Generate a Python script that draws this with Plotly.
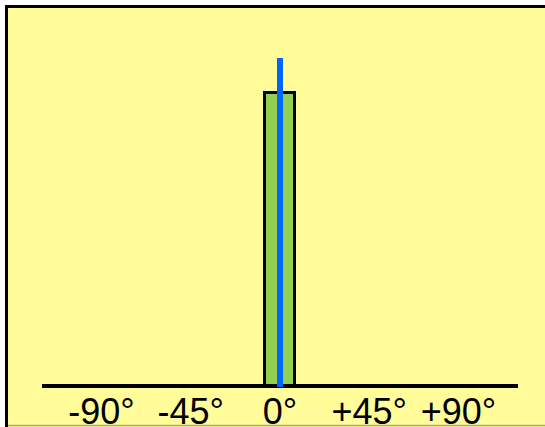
import plotly.graph_objects as go

# Data
categories = [0]            # bar position (degrees)
bar_values = [1.0]          # bar height
bar_width_deg = 15
line_x = [0, 0]             # blue indicator line
line_y = [-0.005, 1.118]
tick_vals = [-90, -45, 0, 45, 90]
tick_text = ["-90°", "-45°", "0°", "+45°", "+90°"]

YELLOW = "#FFFC99"
GREEN = "#92D050"
BLUE = "#0066FF"

fig = go.Figure()
fig.add_trace(go.Bar(
    x=categories, y=bar_values, width=bar_width_deg,
    marker=dict(color=GREEN, line=dict(color="black", width=3)),
    showlegend=False, hoverinfo="skip",
))
fig.add_trace(go.Scatter(
    x=line_x, y=line_y, mode="lines",
    line=dict(color=BLUE, width=6),
    showlegend=False, hoverinfo="skip",
))

# Frame (yellow panel with black border), pixel-sized relative to plot area
fig.add_shape(type="rect", layer="below",
              xref="paper", yref="paper", xsizemode="pixel", ysizemode="pixel",
              xanchor=0, yanchor=0, x0=-35.5, x1=620, y0=-80, y1=380.5,
              fillcolor=YELLOW, line=dict(color="black", width=3))
fig.add_shape(type="line", layer="below",
              xref="paper", yref="paper", xsizemode="pixel", ysizemode="pixel",
              xanchor=0, yanchor=0, x0=-34, x1=620, y0=-38.5, y1=-38.5,
              line=dict(color="#A8A878", width=1.5))

fig.update_layout(
    width=545, height=427,
    margin=dict(l=42, r=27, t=30, b=40),
    paper_bgcolor="white",
    plot_bgcolor="rgba(0,0,0,0)",
    font=dict(family="Liberation Sans, Arial, sans-serif", color="black"),
    bargap=0,
)
fig.update_xaxes(range=[-120, 120], tickvals=tick_vals, ticktext=tick_text,
                 tickfont=dict(size=36, color="black"), showgrid=False,
                 zeroline=False, showline=False, ticks="", automargin=False)
fig.update_yaxes(range=[-0.00512, 1.2133], showgrid=False, showticklabels=False,
                 zeroline=True, zerolinecolor="black", zerolinewidth=3.5,
                 showline=False, ticks="", automargin=False)

fig.write_html("out.html", config={"displayModeBar": False},
               post_script="document.body.style.margin='0';")
